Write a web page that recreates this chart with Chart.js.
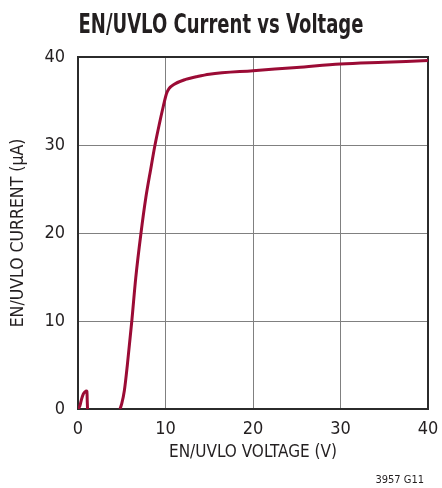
<!DOCTYPE html>
<html>
<head>
<meta charset="utf-8">
<script src="https://cdn.jsdelivr.net/npm/chart.js@4/dist/chart.umd.min.js"></script>
<style>
html,body{margin:0;padding:0;background:#fff;}
#wrap{width:442px;height:488px;position:relative;}
</style>
</head>
<body>
<div id="wrap"><canvas id="c" width="442" height="488"></canvas></div>
<script>
const FONT = "'Liberation Sans Narrow', 'DejaVu Sans Condensed', 'Roboto Condensed', sans-serif";
const titleText = 'EN/UVLO Current vs Voltage';
const xTitle = 'EN/UVLO VOLTAGE (V)';
const yTitle = 'EN/UVLO CURRENT (\u03BCA)';
const note = '3957 G11';
const xTicks = [0, 10, 20, 30, 40];
const yTicks = [0, 10, 20, 30, 40];

// EN/UVLO voltage (V) and current (µA); null marks the break between the two segments
const voltage = [0, 0.2, 0.4, 0.6, 0.8, 0.95, 1.02, 1.06, 1.09, 3,
  4.8, 5.0, 5.3, 5.65, 6.15, 6.6, 7.2, 7.75, 8.3, 8.8, 9.3, 9.75, 10.1, 10.4, 11.0, 12.3, 13.5, 15, 20, 25, 30, 35, 40];
const current = [0, 0.3, 1.1, 1.7, 1.95, 2.05, 2.0, 0.8, 0, null,
  0, 0.6, 2.1, 5.1, 10, 14.9, 20, 24, 27.2, 30, 32.4, 34.4, 35.8, 36.4, 36.9, 37.45, 37.75, 38.05, 38.45, 38.8, 39.2, 39.4, 39.6];

const points = voltage.map((v, i) => ({x: v, y: current[i]}));

const boxPlugin = {
  id: 'box',
  beforeDatasetsDraw(chart) {
    const {ctx, chartArea: a} = chart;
    ctx.save();
    ctx.strokeStyle = '#2b2b2b';
    ctx.lineWidth = 2;
    ctx.strokeRect(a.left, a.top, a.right - a.left, a.bottom - a.top);
    ctx.restore();
  },
  afterDraw(chart) {
    const {ctx} = chart;
    ctx.save();
    ctx.fillStyle = '#231f20';
    // title, condensed horizontally to mimic the narrow bold face
    ctx.font = 'bold 27px ' + FONT;
    ctx.textAlign = 'center';
    ctx.textBaseline = 'alphabetic';
    const w = ctx.measureText(titleText).width;
    const sx = Math.min(1, 285 / w);
    ctx.translate(221, 33);
    ctx.scale(sx, 1);
    ctx.fillText(titleText, 0, 0);
    ctx.setTransform(1, 0, 0, 1, 0, 0);
    ctx.font = '11px ' + FONT;
    ctx.textAlign = 'right';
    ctx.fillText(note, 424, 483);
    ctx.restore();
  }
};

new Chart(document.getElementById('c'), {
  type: 'scatter',
  data: {
    datasets: [{
      data: points,
      showLine: true,
      spanGaps: false,
      borderColor: '#9b0b35',
      borderWidth: 3,
      pointRadius: 0,
      cubicInterpolationMode: 'monotone',
      fill: false
    }]
  },
  options: {
    responsive: false,
    animation: false,
    devicePixelRatio: 1,
    layout: {padding: {left: 0, right: 14, top: 57, bottom: 0}},
    plugins: {
      legend: {display: false},
      tooltip: {enabled: false},
      title: {display: false}
    },
    scales: {
      x: {
        type: 'linear',
        min: 0, max: 40,
        afterFit(s) { s.height = 79; s.paddingLeft = 0; s.paddingRight = 0; },
        afterBuildTicks(s) { s.ticks = xTicks.map(v => ({value: v})); },
        grid: {color: '#808080', lineWidth: 1, drawTicks: false},
        border: {display: false},
        ticks: {color: '#231f20', padding: 10, font: {family: FONT, size: 18}, maxRotation: 0},
        title: {display: true, text: xTitle, color: '#231f20',
          font: {family: FONT, size: 17, lineHeight: 1.2}, padding: {top: 0, bottom: 24.8}}
      },
      y: {
        type: 'linear',
        min: 0, max: 40,
        afterFit(s) { s.width = 78; s.paddingTop = 0; s.paddingBottom = 0; },
        afterBuildTicks(s) { s.ticks = yTicks.map(v => ({value: v})); },
        grid: {color: '#808080', lineWidth: 1, drawTicks: false},
        border: {display: false},
        ticks: {color: '#231f20', padding: 13, font: {family: FONT, size: 18}},
        title: {display: true, text: yTitle, color: '#231f20',
          font: {family: FONT, size: 17.5, lineHeight: 1.2}, padding: {top: 7.8, bottom: 0}}
      }
    }
  },
  plugins: [boxPlugin]
});
</script>
</body>
</html>
